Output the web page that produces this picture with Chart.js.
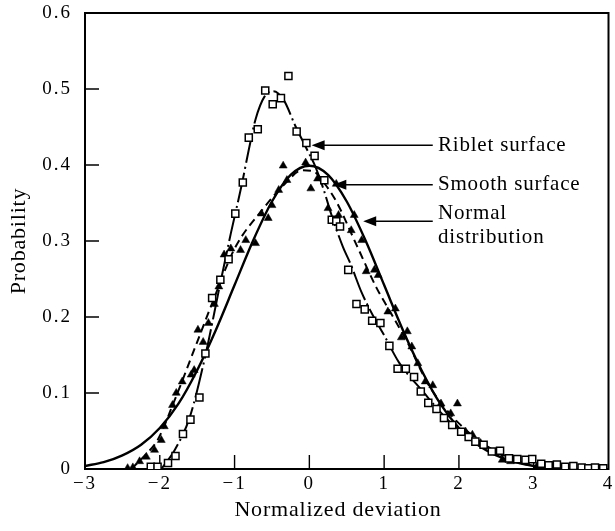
<!DOCTYPE html>
<html>
<head>
<meta charset="utf-8">
<script src="https://cdn.jsdelivr.net/npm/chart.js@4/dist/chart.umd.min.js"></script>
<style>
  html, body { margin: 0; padding: 0; background: #fff; }
</style>
</head>
<body>
<canvas id="chart" width="615" height="531"></canvas>
<script>
/* --------------- Data --------------- */

// open squares: riblet surface
const ribletPts = [
  [-2.12, 0.003], [-2.03, 0.003], [-1.89, 0.008], [-1.79, 0.017], [-1.69, 0.046],
  [-1.59, 0.065], [-1.47, 0.094], [-1.39, 0.152], [-1.30, 0.225], [-1.19, 0.249],
  [-1.08, 0.276], [-0.99, 0.336], [-0.89, 0.377], [-0.81, 0.436], [-0.69, 0.447],
  [-0.59, 0.498], [-0.49, 0.480], [-0.38, 0.488], [-0.28, 0.517], [-0.17, 0.444],
  [-0.04, 0.429], [0.07, 0.412], [0.20, 0.380], [0.30, 0.328], [0.36, 0.326],
  [0.41, 0.319], [0.52, 0.262], [0.63, 0.217], [0.74, 0.210], [0.84, 0.195],
  [0.95, 0.192], [1.07, 0.162], [1.18, 0.132], [1.29, 0.132], [1.40, 0.121],
  [1.49, 0.102], [1.59, 0.087], [1.70, 0.079], [1.80, 0.067], [1.91, 0.058],
  [2.03, 0.049], [2.13, 0.042], [2.22, 0.036], [2.33, 0.032], [2.44, 0.023],
  [2.55, 0.024], [2.67, 0.014], [2.78, 0.013], [2.89, 0.012], [2.98, 0.013],
  [3.10, 0.007], [3.20, 0.005], [3.31, 0.006], [3.42, 0.003], [3.53, 0.004],
  [3.64, 0.002], [3.73, 0.001], [3.82, 0.002], [3.93, 0.001]
];

// filled triangles: smooth surface
const smoothPts = [
  [-2.43, 0.001], [-2.36, 0.002], [-2.27, 0.010], [-2.18, 0.016], [-2.07, 0.025],
  [-1.98, 0.038], [-1.94, 0.056], [-1.83, 0.084], [-1.78, 0.100], [-1.70, 0.115],
  [-1.58, 0.124], [-1.54, 0.130], [-1.49, 0.183], [-1.42, 0.167], [-1.35, 0.192],
  [-1.27, 0.217], [-1.21, 0.240], [-1.14, 0.282], [-1.05, 0.290], [-0.92, 0.288],
  [-0.85, 0.301], [-0.72, 0.297], [-0.64, 0.336], [-0.55, 0.330], [-0.50, 0.347],
  [-0.41, 0.367], [-0.35, 0.399], [-0.30, 0.380], [-0.05, 0.403], [0.02, 0.369],
  [0.11, 0.382], [0.25, 0.343], [0.36, 0.375], [0.39, 0.334], [0.56, 0.314],
  [0.60, 0.334], [0.70, 0.301], [0.76, 0.260], [0.87, 0.262], [0.92, 0.255],
  [1.05, 0.207], [1.15, 0.211], [1.23, 0.173], [1.31, 0.181], [1.37, 0.161],
  [1.45, 0.139], [1.55, 0.115], [1.65, 0.110], [1.76, 0.086], [1.89, 0.073],
  [1.98, 0.086], [2.09, 0.049], [2.18, 0.045], [2.29, 0.034], [2.58, 0.012],
  [2.69, 0.010], [3.04, 0.003], [3.24, 0.003]
];

// chain line through the squares
const ribletFit = [
  [-1.98, 0], [-1.8, 0.025], [-1.6, 0.068], [-1.4, 0.145], [-1.2, 0.24],
  [-1.05, 0.31], [-0.9, 0.376], [-0.81, 0.42], [-0.72, 0.46], [-0.6, 0.49],
  [-0.48, 0.497], [-0.34, 0.485], [-0.19, 0.452], [-0.03, 0.42], [0.08, 0.398],
  [0.19, 0.368], [0.30, 0.333], [0.45, 0.292], [0.55, 0.27], [0.7, 0.232],
  [0.85, 0.202], [1.0, 0.176], [1.2, 0.14], [1.5, 0.104], [1.9, 0.06],
  [2.4, 0.028], [3.0, 0.004], [3.4, 0]
];

// dashed line through the triangles
const smoothFit = [
  [-2.38, 0], [-2.2, 0.018], [-2.03, 0.038], [-1.8, 0.091], [-1.54, 0.157],
  [-1.3, 0.218], [-1.0, 0.290], [-0.63, 0.341], [-0.32, 0.376], [-0.1, 0.393],
  [0.05, 0.392], [0.2, 0.376], [0.36, 0.352], [0.63, 0.295], [0.9, 0.238],
  [1.05, 0.212], [1.32, 0.165], [1.58, 0.113], [1.8, 0.082], [2.0, 0.06],
  [2.3, 0.035], [2.6, 0.017], [2.9, 0.006], [3.2, 0.001]
];

// solid normal distribution curve
const normalCurve = [
  [-3, 0.004], [-2.75, 0.009], [-2.5, 0.018], [-2.25, 0.032], [-2, 0.054],
  [-1.75, 0.086], [-1.5, 0.13], [-1.25, 0.183], [-1, 0.242], [-0.75, 0.301],
  [-0.5, 0.352], [-0.25, 0.387], [0, 0.399], [0.25, 0.387], [0.5, 0.352],
  [0.75, 0.301], [1, 0.242], [1.25, 0.183], [1.5, 0.13], [1.75, 0.086],
  [2, 0.054], [2.25, 0.032], [2.5, 0.018], [2.75, 0.009], [3, 0.004]
];

const xTicks = [-3, -2, -1, 0, 1, 2, 3, 4];
const yTicks = [0, 0.1, 0.2, 0.3, 0.4, 0.5, 0.6];

/* --------------- Labels with arrows (data coordinates) --------------- */

const noteTips = [[0.03, 0.426], [0.32, 0.374], [0.72, 0.326]];
const noteRows = [
  ["Riblet surface", 0.426],
  ["Smooth surface", 0.375],
  ["Normal", 0.336],
  ["distribution", 0.304]
];
const arrowTailX = 1.65;
const noteX = 1.72;

const SERIF = "'Liberation Serif', 'DejaVu Serif', serif";
const toXY = (pts) => pts.map(([x, y]) => ({ x, y }));

/* --------------- Frame, inward ticks, titles, notes --------------- */

const framePlugin = {
  id: "frame",
  beforeDraw(chart) {
    // the scanned figure has loosely spaced digits
    chart.ctx.letterSpacing = "2px";
  },
  beforeDatasetsDraw(chart) {
    const { ctx, chartArea: a, scales: { x, y } } = chart;
    ctx.save();
    ctx.strokeStyle = "#000";
    ctx.lineWidth = 2;
    ctx.strokeRect(a.left, a.top, a.right - a.left, a.bottom - a.top);
    ctx.lineWidth = 1.4;
    ctx.beginPath();
    xTicks.slice(1, -1).forEach((v) => {
      const px = x.getPixelForValue(v);
      ctx.moveTo(px, a.bottom);
      ctx.lineTo(px, a.bottom - 14);
    });
    yTicks.slice(1, -1).forEach((v) => {
      const py = y.getPixelForValue(v);
      ctx.moveTo(a.left, py);
      ctx.lineTo(a.left + 14, py);
    });
    ctx.stroke();
    ctx.restore();
  },
  afterDraw(chart) {
    const { ctx, chartArea: a, scales: { x, y } } = chart;
    ctx.save();
    ctx.fillStyle = "#000";
    ctx.strokeStyle = "#000";
    ctx.letterSpacing = "0.8px";

    // axis titles
    ctx.font = "22px " + SERIF;
    ctx.textAlign = "center";
    ctx.textBaseline = "middle";
    ctx.fillText("Normalized deviation", 338, 510);
    ctx.translate(19, (a.top + a.bottom) / 2);
    ctx.rotate(-Math.PI / 2);
    ctx.fillText("Probability", 0, 0);
    ctx.setTransform(1, 0, 0, 1, 0, 0);

    // arrows
    ctx.lineWidth = 1.5;
    noteTips.forEach(([tx, ty]) => {
      const px = x.getPixelForValue(tx);
      const py = y.getPixelForValue(ty);
      const tail = x.getPixelForValue(arrowTailX);
      ctx.beginPath();
      ctx.moveTo(px + 10, py);
      ctx.lineTo(tail, py);
      ctx.stroke();
      ctx.beginPath();
      ctx.moveTo(px, py);
      ctx.lineTo(px + 13, py - 5);
      ctx.lineTo(px + 13, py + 5);
      ctx.closePath();
      ctx.fill();
    });

    // note text
    ctx.font = "21px " + SERIF;
    ctx.textAlign = "left";
    noteRows.forEach(([txt, ty]) => {
      ctx.fillText(txt, x.getPixelForValue(noteX), y.getPixelForValue(ty));
    });
    ctx.restore();
  }
};

/* --------------- Chart --------------- */

const chart = new Chart(document.getElementById("chart"), {
  type: "scatter",
  plugins: [framePlugin],
  data: {
    datasets: [
      {
        label: "Riblet surface",
        data: toXY(ribletPts),
        pointStyle: "rect",
        pointRadius: 5,
        pointBorderWidth: 1.5,
        pointBorderColor: "#000",
        pointBackgroundColor: "#fff",
      },
      {
        label: "Smooth surface",
        data: toXY(smoothPts),
        pointStyle: "triangle",
        pointRadius: 4.6,
        pointBorderWidth: 0.5,
        pointBorderColor: "#000",
        pointBackgroundColor: "#000",
      },
      {
        label: "Riblet fit",
        data: toXY(ribletFit),
        showLine: true,
        pointRadius: 0,
        borderColor: "#000",
        borderWidth: 2,
        borderDash: [30, 4, 2, 4],
        cubicInterpolationMode: "monotone",
      },
      {
        label: "Smooth fit",
        data: toXY(smoothFit),
        showLine: true,
        pointRadius: 0,
        borderColor: "#000",
        borderWidth: 2,
        borderDash: [8, 5],
        cubicInterpolationMode: "monotone",
      },
      {
        label: "Normal distribution",
        data: toXY(normalCurve),
        showLine: true,
        pointRadius: 0,
        borderColor: "#000",
        borderWidth: 2.4,
        cubicInterpolationMode: "monotone",
      },
    ],
  },
  options: {
    responsive: false,
    animation: false,
    layout: { padding: { top: 13, right: 3, left: 0, bottom: 0 } },
    plugins: {
      legend: { display: false },
      tooltip: { enabled: false },
    },
    scales: {
      x: {
        type: "linear",
        min: -3,
        max: 4,
        afterBuildTicks: (scale) => {
          scale.ticks = xTicks.map((v) => ({ value: v }));
        },
        afterFit: (scale) => {
          scale.height = 62;
          scale.paddingLeft = 0;
          scale.paddingRight = 0;
        },
        grid: { display: false, drawTicks: false },
        border: { display: false },
        ticks: {
          color: "#000",
          padding: 4,
          font: { family: SERIF, size: 19 },
          callback: (v) => (v < 0 ? "\u2212" + Math.abs(v) : String(v)),
        },
      },
      y: {
        type: "linear",
        min: 0,
        max: 0.6,
        afterBuildTicks: (scale) => {
          scale.ticks = yTicks.map((v) => ({ value: v }));
        },
        afterFit: (scale) => {
          scale.width = 85;
          scale.paddingTop = 0;
          scale.paddingBottom = 0;
        },
        grid: { display: false, drawTicks: false },
        border: { display: false },
        ticks: {
          color: "#000",
          padding: 13,
          font: { family: SERIF, size: 19 },
          callback: (v) => (v === 0 ? "0" : v.toFixed(1)),
        },
      },
    },
  },
});
</script>
</body>
</html>
